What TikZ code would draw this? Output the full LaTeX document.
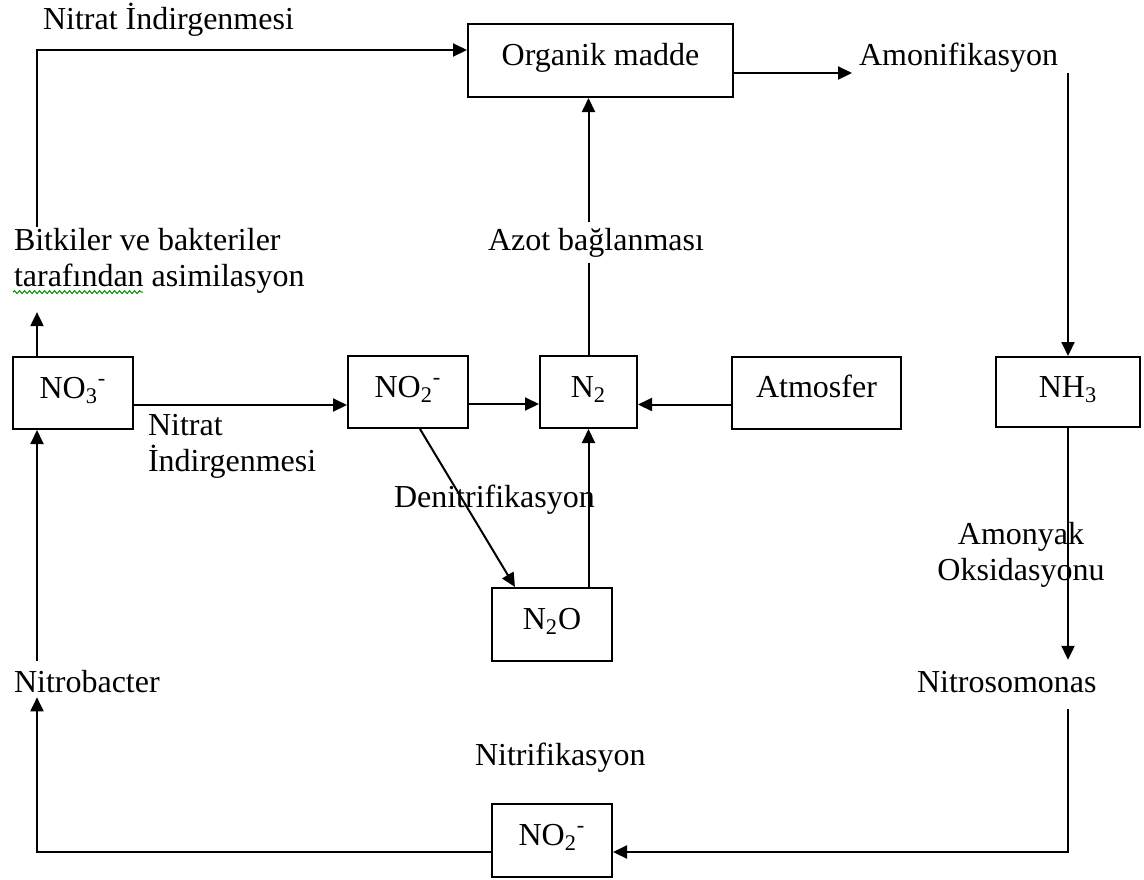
\documentclass[tikz,border=0pt]{standalone}
\usepackage{fontspec}
\setmainfont{Liberation Serif}
\usetikzlibrary{arrows.meta,decorations.pathmorphing}

\begin{document}
\begin{tikzpicture}[x=0.5pt, y=-0.5pt, line width=1pt, >={Triangle[length=7pt,width=6.5pt]},
  font=\fontsize{16}{18}\selectfont,
  box/.style={draw, inner sep=0pt, text height=10pt, text depth=5pt, minimum height=36pt},
  lbl/.style={inner sep=0pt},
  spell/.style={draw=green!55!black, line width=0.5pt, decorate, decoration={snake, amplitude=0.7pt, segment length=2.5pt}}]
  \useasboundingbox (0,0) rectangle (1144,879);
  \node(org)[box, minimum width=132.5pt, minimum height=36.5pt] at (600.5,60.5) {Organik madde};
  \node(no3)[box, minimum width=60pt] at (73,393) {NO\textsubscript{3}\textsuperscript{-}};
  \node(no2)[box, minimum width=60pt] at (408,392) {NO\textsubscript{2}\textsuperscript{-}};
  \node(n2)[box, minimum width=48.5pt] at (588.5,392) {N\textsubscript{2}};
  \node(atm)[box, minimum width=84.5pt] at (816.5,392.5) {Atmosfer};
  \node(nh3)[box, minimum width=72pt, minimum height=35pt] at (1068,392) {NH\textsubscript{3}};
  \node(n2o)[box, minimum width=60pt, minimum height=36.5pt] at (552,624.5) {N\textsubscript{2}O};
  \node(no2b)[box, minimum width=60pt, minimum height=36.5pt] at (552,840.5) {NO\textsubscript{2}\textsuperscript{-}};
  \node(nitratust)[lbl, anchor=base west] at (42,29) {Nitrat İndirgenmesi};
  \node(amon)[lbl, anchor=base west] at (858,65) {Amonifikasyon};
  \node(bitki)[lbl, anchor=north west, align=left] at (13,227) {Bitkiler ve bakteriler\\tarafından asimilasyon};
  \node(nitratorta)[lbl, anchor=north west, align=left] at (147,413) {Nitrat\\İndirgenmesi};
  \node(denit)[lbl, anchor=base west] at (393,507) {Denitrifikasyon};
  \node(amonyak)[lbl, anchor=north, align=center] at (1021,521) {Amonyak\\Oksidasyonu};
  \node(nitroso)[lbl, anchor=base west] at (916,692) {Nitrosomonas};
  \node(nitrob)[lbl, anchor=base west] at (13,692) {Nitrobacter};
  \node(nitrif)[lbl, anchor=base west] at (474,765) {Nitrifikasyon};
  \coordinate (lx) at (37,0);
  \draw[->] (bitki.north -| lx) |- ([yshift=5.25pt]org.west);
  \draw[->, shorten >=3pt] ([yshift=-6.25pt]org.east) -- ([yshift=-6.25pt]org.east -| amon.west);
  \draw[->] (amon.south -| nh3.north) -- (nh3.north);
  \draw[->, shorten >=5pt] (nh3.south) -- (nh3.south |- nitroso.north);
  \draw[->, shorten <=8pt] (nitroso.south -| nh3.south) |- ([yshift=-5.75pt]no2b.east);
  \draw[->, shorten >=2pt] ([yshift=-5.75pt]no2b.west) -| (nitrob.south -| lx);
  \draw[->, shorten <=4pt] (nitrob.north -| lx) -- (no3.south -| lx);
  \draw[->, shorten >=9pt] (no3.north -| lx) -- (bitki.south -| lx);
  \draw[->] ([yshift=-6pt]no3.east) -- ([yshift=-6pt]no3.east -| no2.west);
  \draw[->] ([yshift=-6pt]no2.east) -- ([yshift=-6pt]no2.east -| n2.west);
  \draw[->] ([yshift=-6pt]atm.west) -- ([yshift=-6pt]atm.west -| n2.east);
  \draw[->] (n2.north) -- (n2.north |- org.south);
  \draw[->] ([xshift=6pt]no2.south) -- ([xshift=-18.5pt]n2o.north);
  \draw[->] (n2o.north -| n2.south) -- (n2.south);
  \node(azot)[lbl, anchor=base west, fill=white, inner sep=3pt] at (481,250) {Azot bağlanması};
  \draw[spell] ([yshift=1pt]bitki.south west) -- ++(65pt,0);
\end{tikzpicture}
\end{document}
